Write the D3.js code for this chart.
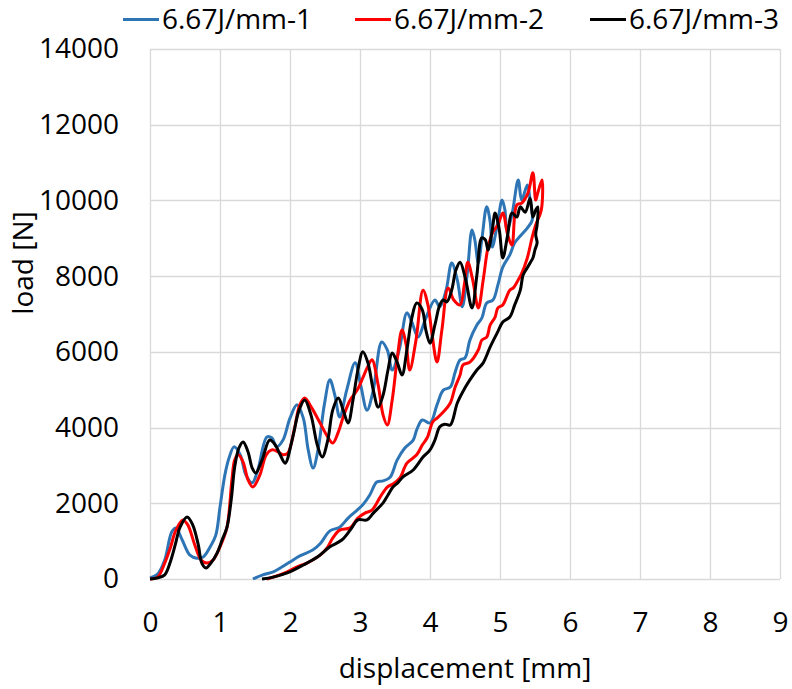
<!DOCTYPE html>
<html>
<head>
<meta charset="utf-8">
<script src="https://cdn.jsdelivr.net/npm/d3@7"></script>
<style>
  html, body { margin: 0; padding: 0; background: #fff; }
  svg { display: block; }
  text { font-family: "Open Sans", "Liberation Sans", sans-serif; fill: #000; }
</style>
</head>
<body>
<svg id="chart" width="792" height="689"></svg>
<script>
// ---------- data ----------
const seriesNames = ["6.67J/mm-1", "6.67J/mm-2", "6.67J/mm-3"];
const seriesColors = ["#2E75B6", "#FF0000", "#000000"];
const xTicks = [0, 1, 2, 3, 4, 5, 6, 7, 8, 9];
const yTicks = [0, 2000, 4000, 6000, 8000, 10000, 12000, 14000];

// [displacement mm, load N] – loading branch followed by unloading branch
const curve1 = [
  [0,30],[0.11,130],[0.21,500],[0.31,1240],[0.37,1350],[0.46,1030],[0.57,630],[0.67,550],[0.76,580],[0.86,850],
  [0.94,1160],[1.00,1900],[1.07,2750],[1.13,3200],[1.20,3490],[1.29,3280],[1.37,2750],[1.46,2540],[1.54,2880],[1.67,3750],
  [1.74,3730],[1.81,3490],[1.90,3670],[2.00,4250],[2.10,4600],[2.19,4250],[2.26,3410],[2.33,2930],[2.40,3410],[2.49,4600],
  [2.57,5260],[2.64,4860],[2.71,4280],[2.81,4990],[2.93,5710],[3.01,5120],[3.10,4460],[3.19,4990],[3.31,6260],[3.39,6050],
  [3.46,5520],[3.56,6050],[3.67,7030],[3.74,6790],[3.83,6390],[3.93,6840],[4.07,7370],[4.14,7190],[4.23,7630],[4.31,8350],
  [4.39,7900],[4.46,7190],[4.53,8030],[4.60,9220],[4.64,8960],[4.69,8350],[4.74,8960],[4.81,9830],[4.86,9430],[4.89,8770],
  [4.96,9350],[5.03,10010],[5.07,9750],[5.10,9220],[5.17,9620],[5.26,10540],[5.31,10010],[5.39,10410],[5.43,10010],[5.46,9480],
  [5.39,9270],[5.29,9060],[5.21,8880],[5.14,8560],[5.04,8240],[4.97,7770],[4.90,7370],[4.81,7290],[4.74,6890],[4.67,6710],
  [4.57,6310],[4.50,5840],[4.43,5790],[4.36,5470],[4.29,5070],[4.19,4990],[4.10,4600],[4.00,4120],[3.89,4200],[3.81,3940],
  [3.76,3670],[3.64,3460],[3.53,3140],[3.43,2690],[3.33,2590],[3.24,2560],[3.14,2220],[3.04,1960],[2.96,1820],[2.83,1610],
  [2.71,1370],[2.57,1270],[2.43,930],[2.33,770],[2.14,610],[2.00,450],[1.86,290],[1.76,190],[1.61,110],[1.47,0]
];
const curve2 = [
  [0,0],[0.11,50],[0.21,420],[0.29,820],[0.37,1290],[0.47,1560],[0.54,1430],[0.64,900],[0.73,500],[0.81,420],
  [0.90,500],[1.00,850],[1.10,1370],[1.17,2620],[1.21,3140],[1.26,3280],[1.33,3090],[1.40,2620],[1.47,2430],[1.57,2750],
  [1.66,3280],[1.74,3410],[1.83,3360],[1.90,3280],[1.97,3330],[2.06,3940],[2.14,4600],[2.21,4780],[2.31,4520],[2.43,4120],
  [2.53,3780],[2.61,3590],[2.69,3880],[2.76,4280],[2.86,4730],[2.96,4990],[3.04,5310],[3.10,5570],[3.17,5790],[3.26,5120],
  [3.33,4330],[3.39,4070],[3.46,4730],[3.53,5790],[3.60,6580],[3.66,6180],[3.71,5520],[3.80,6310],[3.90,7630],[3.97,7240],
  [4.03,6450],[4.10,5730],[4.17,6580],[4.26,7690],[4.34,7370],[4.43,7240],[4.49,7770],[4.54,8370],[4.61,7900],[4.69,7160],
  [4.76,7900],[4.83,8770],[4.90,9170],[4.97,9350],[5.04,9670],[5.11,9090],[5.17,8820],[5.24,9880],[5.31,9930],[5.40,10200],
  [5.47,10730],[5.51,10010],[5.54,10200],[5.60,10540],[5.59,9750],[5.51,9350],[5.46,9030],
  [5.39,8480],[5.30,8030],[5.26,7900],[5.19,7690],[5.14,7630],[5.04,7240],[4.97,7160],[4.93,6920],[4.86,6710],[4.81,6390],
  [4.74,6310],[4.69,6050],[4.57,5730],[4.47,5650],[4.43,5390],[4.36,5070],[4.29,4650],[4.19,4410],[4.10,4250],[4.04,4150],
  [3.96,3730],[3.89,3540],[3.81,3280],[3.67,3060],[3.57,2670],[3.47,2510],[3.39,2430],[3.29,2170],[3.17,1820],[3.07,1740],
  [2.97,1610],[2.86,1350],[2.71,1290],[2.61,1080],[2.53,820],[2.43,630],[2.24,420],[2.10,320],[1.96,190],[1.81,80],[1.67,0]
];
const curve3 = [
  [0,0],[0.11,30],[0.21,110],[0.29,450],[0.36,900],[0.43,1370],[0.53,1640],[0.61,1430],[0.69,900],[0.74,420],
  [0.80,290],[0.87,420],[0.96,690],[1.03,1030],[1.10,1370],[1.16,2090],[1.21,2960],[1.27,3460],[1.33,3620],[1.40,3360],
  [1.46,2930],[1.51,2800],[1.60,3140],[1.71,3670],[1.79,3540],[1.86,3280],[1.93,3060],[2.03,3670],[2.13,4460],[2.21,4730],
  [2.30,4330],[2.39,3540],[2.46,3220],[2.54,3670],[2.61,4460],[2.69,4780],[2.76,4460],[2.83,4120],[2.90,4730],[2.97,5520],
  [3.04,6000],[3.11,5730],[3.19,4990],[3.26,4540],[3.33,4860],[3.40,5520],[3.46,5970],[3.53,5730],[3.60,5390],[3.67,6050],
  [3.74,6890],[3.81,7290],[3.89,7110],[3.94,6580],[4.00,6230],[4.07,6710],[4.14,7240],[4.19,7370],[4.24,7320],[4.31,7630],
  [4.37,8160],[4.43,8370],[4.51,7900],[4.60,7160],[4.67,8030],[4.74,9010],[4.79,8960],[4.83,8690],[4.89,9220],[4.93,9670],
  [4.99,9220],[5.04,8480],[5.11,9090],[5.17,9670],[5.24,9560],[5.29,9830],[5.36,9690],[5.43,10060],[5.47,9560],[5.51,9750],
  [5.54,9830],[5.53,9350],[5.51,9100],[5.53,8880],[5.50,8700],
  [5.47,8480],[5.43,8350],[5.39,8220],[5.33,8030],[5.29,7630],[5.21,7240],[5.14,6920],[5.04,6790],[4.96,6500],[4.86,6130],
  [4.76,5710],[4.67,5520],[4.57,5260],[4.50,5050],[4.39,4650],[4.29,4070],[4.21,4090],[4.14,4020],[4.07,3670],[4.00,3410],
  [3.90,3220],[3.76,2880],[3.61,2690],[3.54,2540],[3.47,2430],[3.40,2220],[3.33,2010],[3.19,1740],[3.10,1560],[2.97,1560],
  [2.86,1290],[2.74,1030],[2.57,850],[2.39,580],[2.19,370],[1.96,160],[1.76,50],[1.60,0]
];
const curves = [curve1, curve2, curve3];

// ---------- layout ----------
const svg = d3.select("#chart");
const plot = { left: 150, right: 780, top: 49, bottom: 579 };
const FONT = 28;

const x = d3.scaleLinear().domain([0, 9]).range([plot.left, plot.right]);
const y = d3.scaleLinear().domain([0, 14000]).range([plot.bottom, plot.top]);

// gridlines
const grid = svg.append("g").attr("stroke", "#D9D9D9").attr("stroke-width", 1.3);
grid.selectAll("line.v").data(xTicks).join("line")
  .attr("x1", d => Math.round(x(d)) + 0.5).attr("x2", d => Math.round(x(d)) + 0.5)
  .attr("y1", plot.top).attr("y2", plot.bottom);
grid.selectAll("line.h").data(yTicks).join("line")
  .attr("x1", plot.left).attr("x2", plot.right)
  .attr("y1", d => Math.round(y(d)) + 0.5).attr("y2", d => Math.round(y(d)) + 0.5);

// axes (labels only)
const xAxis = svg.append("g").attr("transform", `translate(0,${plot.bottom})`)
  .call(d3.axisBottom(x).tickValues(xTicks).tickFormat(d3.format("d")).tickSize(0).tickPadding(33));
xAxis.select(".domain").remove();
xAxis.selectAll("text").attr("font-size", FONT).attr("font-family", null);

const yAxis = svg.append("g").attr("transform", `translate(${plot.left},0)`)
  .call(d3.axisLeft(y).tickValues(yTicks).tickFormat(d3.format("d")).tickSize(0).tickPadding(31));
yAxis.select(".domain").remove();
yAxis.selectAll("text").attr("font-size", FONT).attr("font-family", null);

// axis titles
svg.append("text").attr("x", (plot.left + plot.right) / 2).attr("y", 678)
  .attr("text-anchor", "middle").attr("font-size", FONT).text("displacement [mm]");
svg.append("text").attr("transform", "translate(33,263) rotate(-90)")
  .attr("text-anchor", "middle").attr("font-size", FONT).text("load [N]");

// curves
const line = d3.line().x(d => x(d[0])).y(d => y(d[1])).curve(d3.curveCatmullRom.alpha(0.5));
svg.append("g").selectAll("path").data(curves).join("path")
  .attr("d", d => line(d))
  .attr("fill", "none")
  .attr("stroke", (d, i) => seriesColors[i])
  .attr("stroke-width", 3)
  .attr("stroke-linejoin", "round");

// legend
const legendX = [123, 355, 590];
const leg = svg.append("g").selectAll("g").data(seriesNames).join("g")
  .attr("transform", (d, i) => `translate(${legendX[i]},0)`);
leg.append("line").attr("x1", 0).attr("x2", 36).attr("y1", 19.5).attr("y2", 19.5)
  .attr("stroke", (d, i) => seriesColors[i]).attr("stroke-width", 3);
leg.append("text").attr("x", 39).attr("y", 29).attr("font-size", FONT).text(d => d);
</script>
</body>
</html>
